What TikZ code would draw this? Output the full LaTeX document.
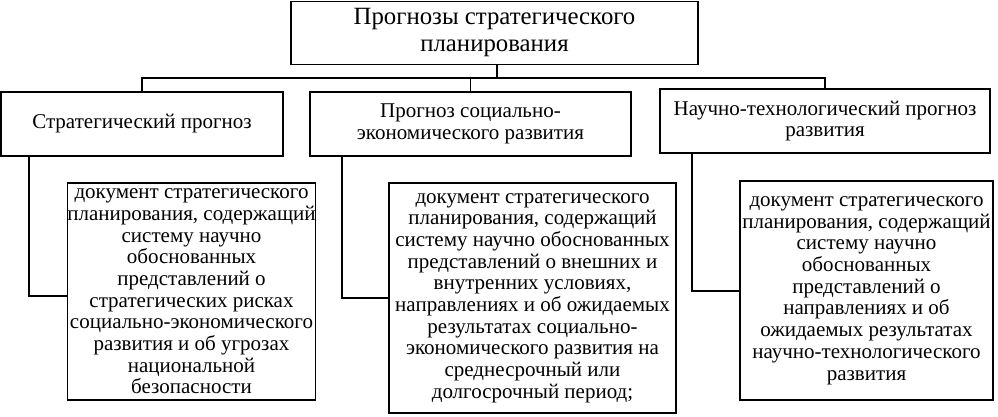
\documentclass[tikz,border=0pt]{standalone}
\usepackage{fontspec}
\setmainfont{Liberation Serif}
\begin{document}
\begin{tikzpicture}[x=1pt,y=-1pt,
  box/.style={draw,line width=1.6pt,inner sep=0pt,align=center,font=\fontsize{21}{21.7}\selectfont},
  conn/.style={line width=1.6pt}]
\useasboundingbox (0,0) rectangle (998,417);
\node[box,minimum width=407pt,minimum height=63pt,font=\fontsize{24.8}{27}\selectfont] (top) at (494.5,33) {Прогнозы стратегического\\планирования};
\node[box,minimum width=282pt,minimum height=64pt] (b1) at (142,124) {Стратегический прогноз};
\node[box,minimum width=321pt,minimum height=64pt] (b2) at (470.5,124) {Прогноз социально-\\экономического развития};
\node[box,minimum width=330pt,minimum height=64pt] (b3) at (825,121) {Научно-технологический прогноз\\развития};
\node[box,minimum width=241pt,minimum height=217pt] (d1) at (191.5,291.5) {документ стратегического\\планирования, содержащий\\систему научно\\обоснованных\\представлений о\\стратегических рисках\\социально-экономического\\развития и об угрозах\\национальной\\безопасности};
\node[box,minimum width=287pt,minimum height=230pt] (d2) at (532.5,298) {документ стратегического\\планирования, содержащий\\систему научно обоснованных\\представлений о внешних и\\внутренних условиях,\\направлениях и об ожидаемых\\результатах социально-\\экономического развития на\\среднесрочный или\\долгосрочный период;};
\node[box,minimum width=253pt,minimum height=219pt] (d3) at (866.5,290.5) {документ стратегического\\планирования, содержащий\\систему научно\\обоснованных\\представлений о\\направлениях и об\\ожидаемых результатах\\научно-технологического\\развития};
\coordinate (j) at (497,78);
\draw[conn] (top.south -| j) -- (j);
\draw[conn] (b1.north) -- (b1.north |- j) -- (b3.north |- j) -- (b3.north);
\draw[conn] (b2.north |- j) -- (b2.north);
\coordinate (c1) at (29,296);
\coordinate (c2) at (342,298);
\coordinate (c3) at (692,291);
\draw[conn] (b1.south -| c1) -- (c1) -- (d1.west |- c1);
\draw[conn] (b2.south -| c2) -- (c2) -- (d2.west |- c2);
\draw[conn] (b3.south -| c3) -- (c3) -- (d3.west |- c3);
\end{tikzpicture}
\end{document}
